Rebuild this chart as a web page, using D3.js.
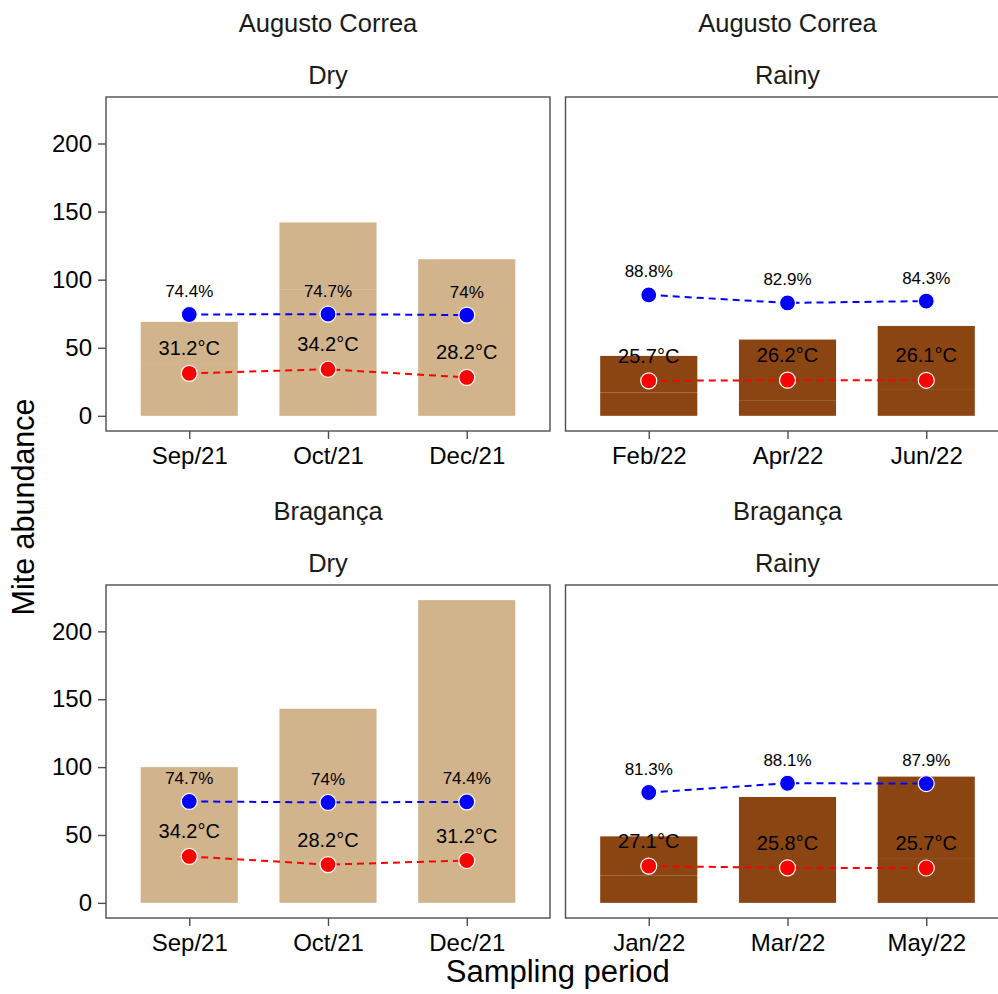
<!DOCTYPE html>
<html>
<head>
<meta charset="utf-8">
<script src="https://cdn.jsdelivr.net/npm/d3@7"></script>
<style>
  body { margin: 0; background: #fff; }
  svg { display: block; font-family: "Liberation Sans", Arial, sans-serif; }
</style>
</head>
<body>
<div id="chart"></div>
<script>
// chart data, one entry per facet panel

var sites = ["Augusto Correa", "Augusto Correa", "Bragança", "Bragança"];
var seasons = ["Dry", "Rainy", "Dry", "Rainy"];
var months = [
    ["Sep/21", "Oct/21", "Dec/21"],
    ["Feb/22", "Apr/22", "Jun/22"],
    ["Sep/21", "Oct/21", "Dec/21"],
    ["Jan/22", "Mar/22", "May/22"]
];
var abundance = [
    [69, 142, 115],
    [44, 56, 66],
    [100, 143, 223],
    [49, 78, 93]
];
// lower stacked part of each bar (faint seam), null when single block
var lowerPart = [
    [38, 93, null],
    [17, 11, 19],
    [null, null, null],
    [20, null, 33]
];
var humidity = [
    [74.4, 74.7, 74],
    [88.8, 82.9, 84.3],
    [74.7, 74, 74.4],
    [81.3, 88.1, 87.9]
];
var temperature = [
    [31.2, 34.2, 28.2],
    [25.7, 26.2, 26.1],
    [34.2, 28.2, 31.2],
    [27.1, 25.8, 25.7]
];
var yTicks = [0, 50, 100, 150, 200];

var svgWidth = 998;
var svgHeight = 994;

var dryColor = "#D2B48C";
var rainyColor = "#8B4513";

// panel boxes
var panelX = [[106, 550], [565.5, 1009.5]];
var panelY = [[97, 431], [585, 918]];

var svg = d3.select("#chart")
    .append("svg")
    .attr("width", svgWidth)
    .attr("height", svgHeight);

// shared y domain, ggplot style 5% expansion
var yMax = d3.max(abundance, d => d3.max(d));
var pad = yMax * 0.05;

months.forEach(function (cats, i) {
    var col = i % 2;
    var row = Math.floor(i / 2);
    var x0 = panelX[col][0], x1 = panelX[col][1];
    var y0 = panelY[row][0], y1 = panelY[row][1];

    var x = d3.scalePoint()
        .domain(cats)
        .range([x0, x1])
        .padding(0.6);
    var barW = x.step() * 0.7;

    var y = d3.scaleLinear()
        .domain([-pad, yMax + pad])
        .range([y1, y0]);

    var g = svg.append("g");
    var fill = seasons[i] === "Dry" ? dryColor : rainyColor;

    // strip labels
    g.append("text")
        .attr("x", (x0 + x1) / 2)
        .attr("y", y0 - 65)
        .attr("text-anchor", "middle")
        .style("font-size", "25.5px")
        .style("fill", "#1a1a1a")
        .text(sites[i]);
    g.append("text")
        .attr("x", (x0 + x1) / 2)
        .attr("y", y0 - 13)
        .attr("text-anchor", "middle")
        .style("font-size", "25.5px")
        .style("fill", "#1a1a1a")
        .text(seasons[i]);

    // bars (lower part + upper part)
    cats.forEach(function (c, j) {
        var total = abundance[i][j];
        var low = lowerPart[i][j];
        var parts = low === null ? [[0, total]] : [[0, low], [low, total]];
        parts.forEach(function (p) {
            g.append("rect")
                .attr("x", x(c) - barW / 2)
                .attr("width", barW)
                .attr("y", y(p[1]))
                .attr("height", y(p[0]) - y(p[1]))
                .attr("fill", fill);
        });
    });

    // dashed lines
    var line = d3.line()
        .x((d, j) => x(cats[j]))
        .y(d => y(d));

    g.append("path")
        .datum(humidity[i])
        .attr("d", line)
        .attr("fill", "none")
        .attr("stroke", "#0000FF")
        .attr("stroke-width", 2)
        .attr("stroke-dasharray", "7,5");
    g.append("path")
        .datum(temperature[i])
        .attr("d", line)
        .attr("fill", "none")
        .attr("stroke", "#FF0000")
        .attr("stroke-width", 2)
        .attr("stroke-dasharray", "7,5");

    // points
    g.selectAll(".hum")
        .data(humidity[i])
        .enter()
        .append("circle")
        .attr("cx", (d, j) => x(cats[j]))
        .attr("cy", d => y(d))
        .attr("r", 8)
        .attr("fill", "#0000FF")
        .attr("stroke", "#fff")
        .attr("stroke-width", 1.2);
    g.selectAll(".tmp")
        .data(temperature[i])
        .enter()
        .append("circle")
        .attr("cx", (d, j) => x(cats[j]))
        .attr("cy", d => y(d))
        .attr("r", 8)
        .attr("fill", "#FF0000")
        .attr("stroke", "#fff")
        .attr("stroke-width", 1.2);

    // value labels
    g.selectAll(".humLabel")
        .data(humidity[i])
        .enter()
        .append("text")
        .attr("x", (d, j) => x(cats[j]))
        .attr("y", d => y(d) - 17.5)
        .attr("text-anchor", "middle")
        .style("font-size", "17px")
        .style("fill", "#000")
        .text(d => d + "%");
    g.selectAll(".tmpLabel")
        .data(temperature[i])
        .enter()
        .append("text")
        .attr("x", (d, j) => x(cats[j]))
        .attr("y", d => y(d) - 18)
        .attr("text-anchor", "middle")
        .style("font-size", "20px")
        .style("fill", "#000")
        .text(d => d + "°C");

    // panel border
    g.append("rect")
        .attr("x", x0)
        .attr("y", y0)
        .attr("width", x1 - x0)
        .attr("height", y1 - y0)
        .attr("fill", "none")
        .attr("stroke", "#4d4d4d")
        .attr("stroke-width", 1.4);

    // x axis
    var bottomAxis = d3.axisBottom(x).tickSize(8).tickPadding(8);
    var xAxis = g.append("g")
        .attr("transform", `translate(0, ${y1})`)
        .call(bottomAxis);
    xAxis.select(".domain").remove();
    xAxis.selectAll("line").attr("stroke", "#4d4d4d").attr("stroke-width", 1.4);
    xAxis.selectAll("text")
        .style("font-size", "24px")
        .style("font-family", "Liberation Sans, Arial, sans-serif")
        .attr("fill", "#000");

    // y axis on left panels only
    if (col === 0) {
        var leftAxis = d3.axisLeft(y).tickValues(yTicks).tickSize(8).tickPadding(6);
        var yAxis = g.append("g")
            .attr("transform", `translate(${x0}, 0)`)
            .call(leftAxis);
        yAxis.select(".domain").remove();
        yAxis.selectAll("line").attr("stroke", "#4d4d4d").attr("stroke-width", 1.4);
        yAxis.selectAll("text")
            .style("font-size", "24px")
            .style("font-family", "Liberation Sans, Arial, sans-serif")
            .attr("fill", "#000");
    }
});

// axis titles
svg.append("text")
    .attr("x", (panelX[0][0] + panelX[1][1]) / 2)
    .attr("y", 982)
    .attr("text-anchor", "middle")
    .style("font-size", "31px")
    .text("Sampling period");

svg.append("text")
    .attr("transform", "rotate(-90)")
    .attr("x", -507)
    .attr("y", 34)
    .attr("text-anchor", "middle")
    .style("font-size", "30.5px")
    .text("Mite abundance");
</script>
</body>
</html>
